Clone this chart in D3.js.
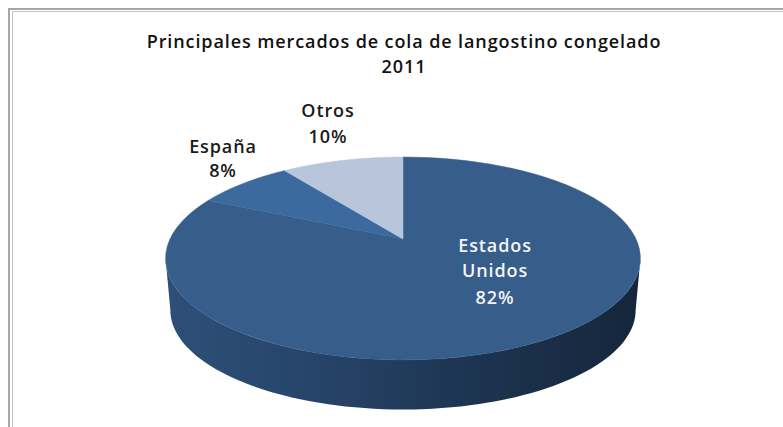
<!DOCTYPE html>
<html><head><meta charset="utf-8">
<script src="https://cdn.jsdelivr.net/npm/d3@7"></script>
<style>html,body{margin:0;background:#fff}svg{display:block}text{font-family:"Open Sans",sans-serif;font-weight:600;text-anchor:middle}</style>
</head><body><svg width="783" height="427"></svg>
<script>
const categories=["Estados Unidos","España","Otros"];
const values=[82,8,10];
const titleLines=["Principales mercados de cola de langostino congelado","2011"];
const colors=["#375d8a","#3d6a9e","#b9c5da"];
const W=783,H=427,cx=403,cy=239,k=0.192,A=97.7,B=233,depth=52;
const svg=d3.select("svg");
const defs=svg.append("defs");
const g=defs.append("linearGradient").attr("id","wall");
[[0,"#2d4f78"],[0.3,"#27456a"],[0.6,"#1e3654"],[1,"#15263b"]].forEach(s=>g.append("stop").attr("offset",s[0]).attr("stop-color",s[1]));
// frame
const fr=svg.append("g").attr("fill","none");
fr.append("path").attr("d","M9,427V9H783").attr("stroke","#a6a6a6").attr("stroke-width",2);
fr.append("path").attr("d","M12.5,427V11.5H783").attr("stroke","#c4c4c4").attr("stroke-width",1);
const proj=(t,dy=0,sc=1)=>{const u=Math.sin(t),v=-Math.cos(t),w=1-k*v;return [cx+sc*B*u/w,cy+dy+sc*A*v/w];};
const pie=d3.pie().value(d=>d).sort(null);
const arcs=pie(values);
const line=d3.line();
const sample=(a,b,dy,sc)=>d3.range(0,81).map(i=>proj(a+(b-a)*i/80,dy,sc));
// wall: from the left/right extremes of the top face down to the bottom rim
const ext=Math.asin(k);
const t0=Math.PI/2+ext,t1=Math.PI*1.5-ext;
const wallTop=sample(t0,t1,0,1);
const wallBottom=sample(t1,t0,depth,0.98);
svg.append("path").attr("d",line(wallTop.concat(wallBottom))+"Z").attr("fill","url(#wall)");
// top face
const chart=svg.append("g");
chart.selectAll("path").data(arcs).join("path")
 .attr("d",d=>line([proj(0,0,0)].concat(sample(d.startAngle,d.endAngle,0,1)))+"Z")
 .attr("fill",(d,i)=>colors[i]).attr("stroke",(d,i)=>colors[i]).attr("stroke-width",0.5);
// title
const title=svg.append("g").attr("font-size",18).attr("letter-spacing",0.9).attr("fill","#111");
titleLines.forEach((t,i)=>title.append("text").attr("x",404).attr("y",48+i*25).text(t));
// labels
const lbl=[[{t:"Estados",x:495,y:252},{t:"Unidos",x:495,y:277},{t:values[0]+"%",x:495,y:304}],
 [{t:categories[1],x:223,y:153},{t:values[1]+"%",x:223,y:177}],
 [{t:categories[2],x:328,y:117},{t:values[2]+"%",x:328,y:143}]];
lbl.forEach((l,i)=>l.forEach(d=>svg.append("text").attr("x",d.x).attr("y",d.y).attr("font-size",18).attr("letter-spacing",0.9).attr("font-weight",700).attr("fill",i==0?"#f2f4f7":"#1a1a1a").text(d.t)));
</script></body></html>
